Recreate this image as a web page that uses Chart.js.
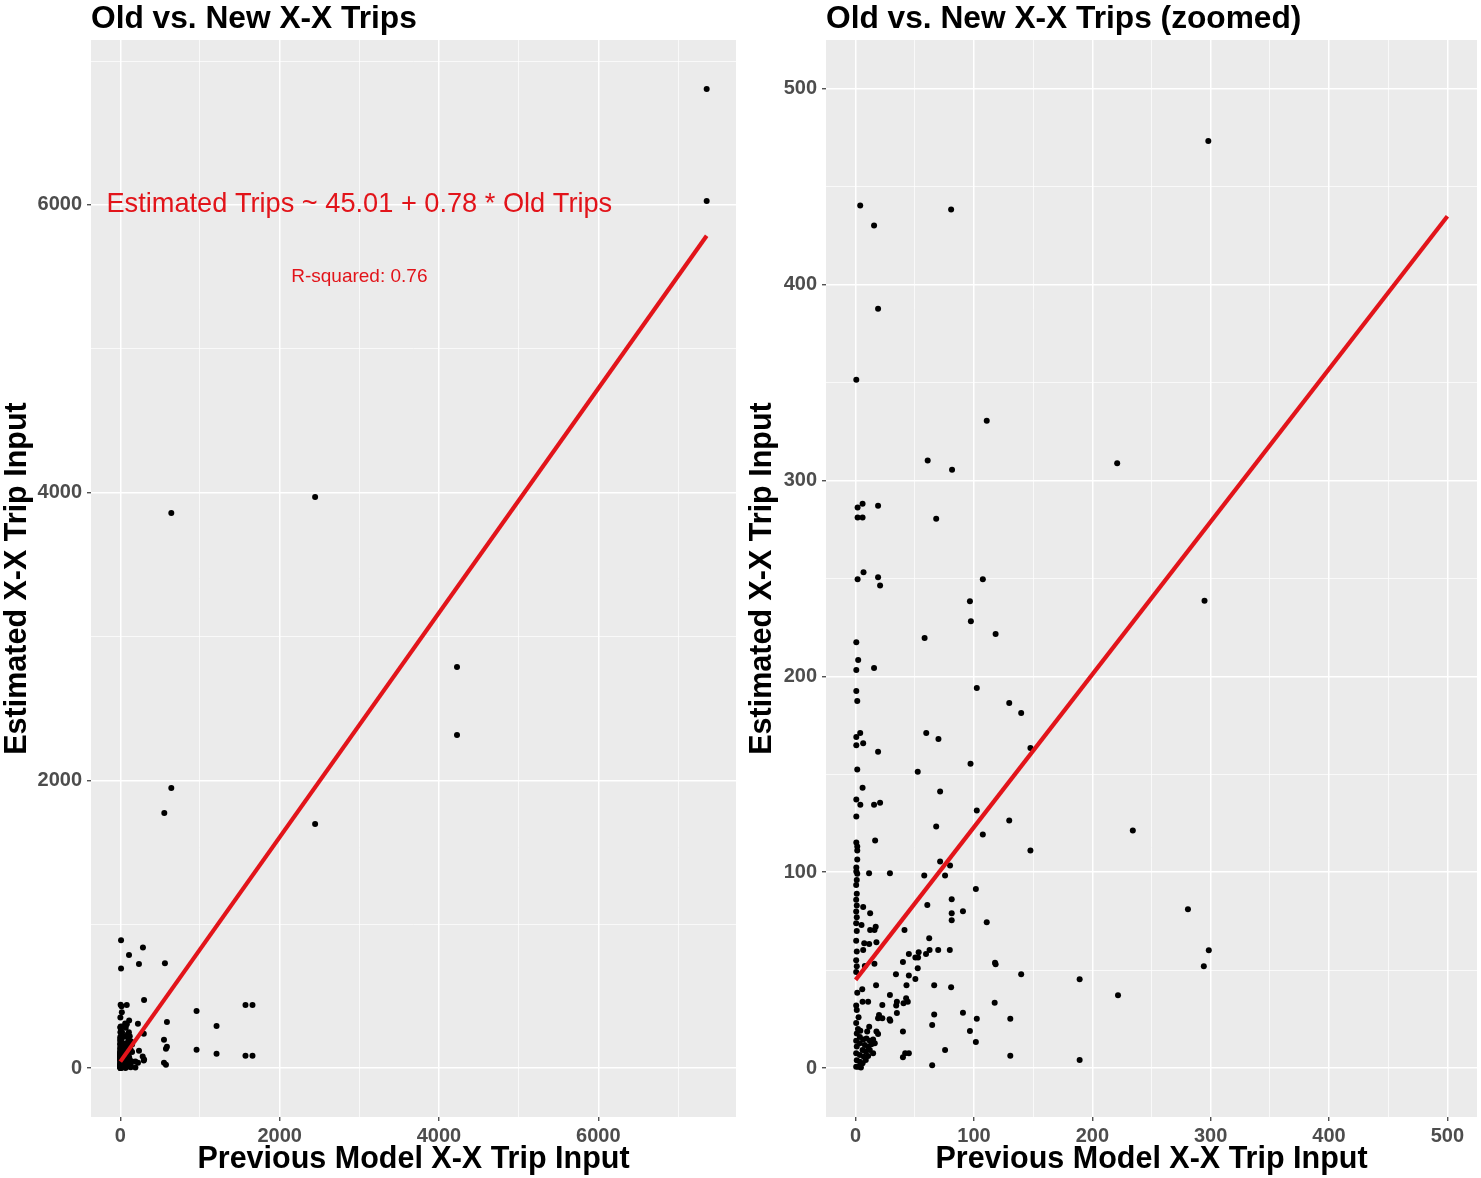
<!DOCTYPE html>
<html><head><meta charset="utf-8">
<script src="https://cdn.jsdelivr.net/npm/chart.js@4/dist/chart.umd.min.js"></script>
<style>
html,body{margin:0;padding:0;background:#fff;}
#wrap{position:relative;width:1481px;height:1178px;overflow:hidden;background:#fff;}
canvas{position:absolute;top:0;}
#c1{left:0;}
#c2{left:740px;}
</style></head><body>
<div id="wrap"><canvas id="c1" width="740" height="1178"></canvas><canvas id="c2" width="741" height="1178"></canvas></div>
<script>
// ---- data: previous model trips (x) and estimated trips (y) ----
const oldTrips = [
  // column near zero
  1,0.5,1,0.5,1,0.5,1,0.5,1,0.5,1,0.5,1,0.5,0.5,1,0.5,1,0.5,1,0.5,1,0.5,
  // low band 0-100
  6.4,12.3,5,12.3,17,16,41.3,60.6,81.2,81.2, 81.2,90.7,101.6,110.8,7.3,11.5,17.6,6.4,62.2,45,
  53.3,59.5,62.5,69.8,79.6,50.5,52.8,40,15.9,7.8, 52.5,117.8,118.3,139.9,34.1,45,50.5,17.3,43,66.4,
  80.7,5.6,1.4,29,42.7,44.1,40.5,34.9,34.3,22.6, 5.9,10.6,117.5,90.7,66.4,34.9,102.4,130.7,19.8,19,
  22.6,28.7,29.3,64.7,11.5,9.8,17.6,19,40,96.6, 101.6,75.6,41.9,45,40,130.7,64.7,
  // dense cluster near origin
  3.6,6.4,9.2,12,14.8,3.6,7.8,10.6,13.4,5.9, 8.6,12,14.8,3.6,7,10.6,3.6,5.9,2.2,4.5, 16.2,8.6,2,4,2.5,
  // band 100-200
  0.6,1.4,3.9,0.6,6.4,0.6,19,1.4,59.7,70, 102.4,129.8,139.9,97.1,52.5,5.9,71.4,0.6,4,15.6,
  20.7,0.6,102.4,129.8,68.1,107.5,16.5,0.6,1.4,1.4, 1.4,71.4,79.8,0.6,0.6,1.4,11.4,29,58,75.6,
  // band 200-300
  1.7,5.9,19,1.7,5.9,68.1,6.7,1.7,19,20.7, 107.5,96.6,97.4,118.3,58.3,0.6,2.2,0.6,15.6,
  // upper and right points
  3.9,15.6,80.7,19,0.6,110.8,60.9,81.5, 221,298,147.7,234.2,147.7,280.8,298.4,294.2,189.3,221.7,189.3,294.8,
  // points beyond the zoomed window
  9,284,109,234,560,9,957,1571,1659,585, 1208,548,585,573,957,1208,1571,1659,548,573,
  7360,7360,640,2445,4226,4226,2445,640,552
];
const newTrips = [
  96,93.5,89,86,83,80,77,74,70,65,59.5,55,52,49,32,29.6,23,17.7,14,11,7.5,4,0.7,
  82.2,79.1,73,70.5,72.2,70.5,70.5,83.2,86.2,79.1, 75.5,80.1,91.4,74.5,63.7,63.4,64.3,60.3,66.3,58.3,
  59.1,58.3,60.3,60.3,60.3,56.4,56.4,54.2,53.2,52.1, 51,53.8,53,47.9,47.9,47.2,45.5,42.3,42.3,42.3,
  41.3,40.2,38.5,37.3,35.6,33.9,33.1,33.9,31.9,32.2, 33.9,33.9,33.4,28.3,27.3,28.1,25.2,25.2,27.1,25.4,
  25.4,24.9,24.2,22,21.1,18.6,18.6,17.4,18.6,18.9, 13.3,9.2,7.5,7.5,5.5,6.3,1.4,
  15.9,14.6,15.1,13.9,14.6,12.6,11.8,10.9,12.2,9.2, 8.4,9.2,7.5,6.7,5.8,6.1,3.2,2.4,0.7,0.3, 12.6,4.1,20,19,26,
  192.6,187.5,171.1,169.1,165.9,164.9,161.5,152.4,171.1,168, 194.1,186.4,181.3,155.4,151.3,143.2,141.2,137.2,134.5,134.5,
  135.5,128.5,131.5,126.4,123.4,119.3,116.2,115.2,113.2,111.1, 106.5,105.5,103.4,102.4,100.4,99.2,99.5,99.5,98.3,98.3,
  286.3,288.2,287.1,281.2,281.2,280.5,253.2,249.6,250.6,246.4, 249.6,238.4,228.2,221.6,219.6,217.4,208.4,203.3,204.3,
  440.5,430.3,438.5,387.7,351.5,330.6,310.2,305.5, 308.8,473.4,163.4,121.3,111.1,81.1,60.2,52,45.3,37.2,4.1,238.7,
  888,839,786,723,728,693,396,438,438,320, 292,197,148,134,127,99,86,86,37,23,
  6806,6027,3858,3969,2788,2315,1696,1946,1773
];
// fitted line end points
const fitOldFull = [0, 7360];
const fitNewFull = [45.01, 5785.8];
const fitOldZoom = [0, 500];
const fitNewZoom = [45.01, 435.0];
// tick labels
const ticksFull = [0, 2000, 4000, 6000];
const minorFull = [1000, 3000, 5000, 7000];
const ticksZoom = [0, 100, 200, 300, 400, 500];
const minorZoom = [50, 150, 250, 350, 450];
// texts
const plotTitles = ['Old vs. New X-X Trips', 'Old vs. New X-X Trips (zoomed)'];
const xTitle = 'Previous Model X-X Trip Input';
const yTitle = 'Estimated X-X Trip Input';
const eqLabel = 'Estimated Trips ~ 45.01 + 0.78 * Old Trips';
const r2Label = 'R-squared: 0.76';

const FONT = "'Liberation Sans',Arial,sans-serif";
Chart.defaults.font.family = FONT;
Chart.defaults.animation = false;

const panelBg = {
  id: 'panelBg',
  beforeDraw(chart) {
    const {ctx, chartArea: a} = chart;
    ctx.save();
    ctx.fillStyle = '#EBEBEB';
    ctx.fillRect(a.left, a.top, a.right - a.left, a.bottom - a.top);
    ctx.restore();
  }
};
const notes = {
  id: 'notes',
  afterDatasetsDraw(chart, args, opts) {
    const {ctx, scales} = chart;
    (opts.items || []).forEach(it => {
      ctx.save();
      ctx.font = `normal ${it.size}px ${FONT}`;
      ctx.fillStyle = it.color;
      ctx.textAlign = 'center';
      ctx.textBaseline = 'middle';
      ctx.fillText(it.text, scales.x.getPixelForValue(it.x), scales.y.getPixelForValue(it.y));
      ctx.restore();
    });
  }
};

function scaleOpts(major, minor, min, max, title, titlePad, labelPad, fit) {
  return {
    type: 'linear', min, max,
    afterBuildTicks: s => { s.ticks = major.concat(minor).sort((a, b) => a - b).map(v => ({value: v})); },
    ticks: {
      autoSkip: false, maxRotation: 0, color: '#4D4D4D', padding: labelPad,
      font: {size: 20, weight: 'bold'},
      callback: v => major.includes(v) ? String(v) : ''
    },
    grid: {
      color: '#FFFFFF',
      lineWidth: c => (c.tick && major.includes(c.tick.value)) ? 1.5 : 0.7,
      drawTicks: true, tickLength: 4, tickWidth: 1.2,
      tickColor: c => (c.tick && major.includes(c.tick.value)) ? '#333333' : 'rgba(0,0,0,0)'
    },
    border: {display: false},
    title: {display: true, text: title, color: '#000000', padding: titlePad,
      font: {size: 30.5, weight: 'bold', lineHeight: '36px'}},
    afterFit: fit
  };
}

function makeChart(id, p) {
  const pts = oldTrips.map((x, i) => ({x, y: newTrips[i]}));
  const fit = p.fitX.map((x, i) => ({x, y: p.fitY[i]}));
  return new Chart(document.getElementById(id), {
    type: 'scatter',
    data: {
      datasets: [
        {type: 'line', data: fit, borderColor: '#E2141A', borderWidth: 4.2, pointRadius: 0, fill: false, tension: 0},
        {data: pts, backgroundColor: '#000000', borderColor: '#000000', pointRadius: 3, borderWidth: 0}
      ]
    },
    options: {
      responsive: false,
      animation: false,
      layout: {padding: {left: 0, right: p.padRight, top: 0, bottom: 0}},
      plugins: {
        legend: {display: false},
        tooltip: {enabled: false},
        title: {display: true, text: p.title, align: 'start', fullSize: false, color: '#000000',
          font: {size: 31.7, weight: 'bold', lineHeight: '38px'}, padding: {top: 0, bottom: 2}},
        notes: {items: p.notes}
      },
      scales: {
        x: scaleOpts(p.xMajor, p.xMinor, p.xMin, p.xMax, xTitle, {top: 0, bottom: 0}, 3, s => { s.height = 61; }),
        y: scaleOpts(p.yMajor, p.yMinor, p.yMin, p.yMax, yTitle, {top: p.yTitlePad, bottom: 0}, 5, s => { s.width = p.yWidth; })
      }
    },
    plugins: [panelBg, notes]
  });
}

makeChart('c1', {
  title: plotTitles[0], fitX: fitOldFull, fitY: fitNewFull,
  xMajor: ticksFull, xMinor: minorFull, yMajor: ticksFull, yMinor: minorFull,
  xMin: -368, xMax: 7728, yMin: -340, yMax: 7146,
  yWidth: 91, yTitlePad: 0, padRight: 3,
  notes: [
    {text: eqLabel, x: 3000, y: 6000, size: 27.2, color: '#E2141A'},
    {text: r2Label, x: 3000, y: 5500, size: 19, color: '#E2141A'}
  ]
});
makeChart('c2', {
  title: plotTitles[1], fitX: fitOldZoom, fitY: fitNewZoom,
  xMajor: ticksZoom, xMinor: minorZoom, yMajor: ticksZoom, yMinor: minorZoom,
  xMin: -25, xMax: 525, yMin: -25, yMax: 525,
  yWidth: 86, yTitlePad: 5, padRight: 0,
  notes: []
});
</script>
</body></html>
